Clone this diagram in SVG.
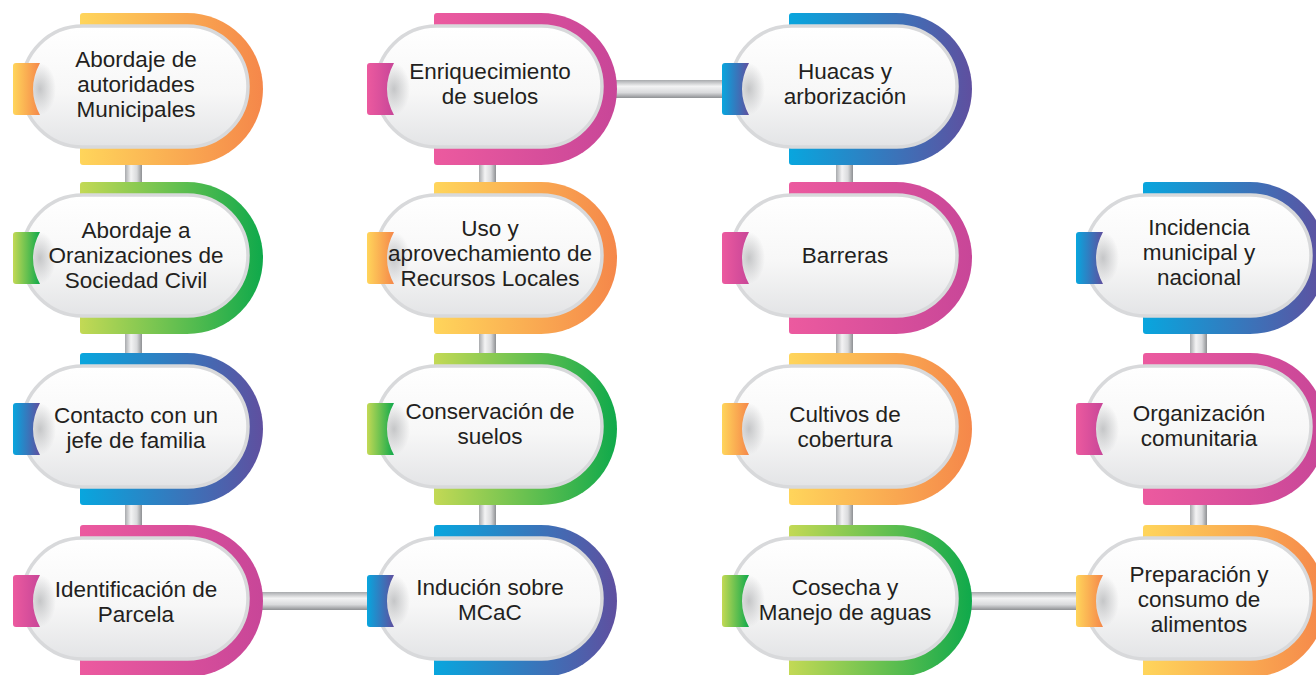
<svg xmlns="http://www.w3.org/2000/svg" width="1316" height="675" viewBox="0 0 1316 675">
<defs>
<linearGradient id="gO" x1="0" y1="0" x2="1" y2="0"><stop offset="0" stop-color="#ffd55b"/><stop offset="1" stop-color="#f5874a"/></linearGradient>
<linearGradient id="gG" x1="0" y1="0" x2="1" y2="0"><stop offset="0" stop-color="#c3d955"/><stop offset="1" stop-color="#0fa94b"/></linearGradient>
<linearGradient id="gB" x1="0" y1="0" x2="1" y2="0"><stop offset="0" stop-color="#08a6de"/><stop offset="1" stop-color="#5f4f9f"/></linearGradient>
<linearGradient id="gP" x1="0" y1="0" x2="1" y2="0"><stop offset="0" stop-color="#ec5a9f"/><stop offset="1" stop-color="#c84698"/></linearGradient>
<linearGradient id="gPill" x1="0" y1="0" x2="0" y2="1"><stop offset="0" stop-color="#ffffff"/><stop offset="0.55" stop-color="#f7f7f7"/><stop offset="1" stop-color="#e3e4e6"/></linearGradient>
<linearGradient id="gH" x1="0" y1="0" x2="0" y2="1"><stop offset="0" stop-color="#a8aaad"/><stop offset="0.35" stop-color="#f3f3f4"/><stop offset="0.7" stop-color="#d9dadc"/><stop offset="1" stop-color="#8e9093"/></linearGradient>
<linearGradient id="gV" x1="0" y1="0" x2="1" y2="0"><stop offset="0" stop-color="#a8aaad"/><stop offset="0.35" stop-color="#f3f3f4"/><stop offset="0.7" stop-color="#d9dadc"/><stop offset="1" stop-color="#8e9093"/></linearGradient>
<radialGradient id="gSh" cx="0.5" cy="0.5" r="0.5"><stop offset="0" stop-color="#9c9ea1" stop-opacity="0.55"/><stop offset="1" stop-color="#9c9ea1" stop-opacity="0"/></radialGradient>
<path id="band" d="M3,-76 H107 A76,76 0 0 1 107,76 H3 Q0,76 0,73 V-73 Q0,-76 3,-76 Z"/>
<path id="tab" d="M-64,-26 H-40 Q-54,0 -40,26 H-64 Q-67,26 -67,23 V-23 Q-67,-26 -64,-26 Z"/>
</defs>
<style>
.o{fill:url(#gO)} .g{fill:url(#gG)} .b{fill:url(#gB)} .p{fill:url(#gP)}
.pill{fill:url(#gPill);stroke:#d8d9db;stroke-width:3.5}
.sh{fill:url(#gSh)}
.h{fill:url(#gH)} .v{fill:url(#gV)}
text{font-family:"Liberation Sans",Arial,sans-serif;font-size:22.5px;fill:#231f20;text-anchor:middle}
</style>
<rect width="1316" height="675" fill="#ffffff"/>
<g id="connectors">
<rect class="v" x="125" y="150" width="17" height="120"/>
<rect class="v" x="125" y="320" width="17" height="120"/>
<rect class="v" x="125" y="490" width="17" height="120"/>
<rect class="v" x="479" y="150" width="17" height="120"/>
<rect class="v" x="479" y="320" width="17" height="120"/>
<rect class="v" x="479" y="490" width="17" height="120"/>
<rect class="v" x="836" y="150" width="17" height="120"/>
<rect class="v" x="836" y="320" width="17" height="120"/>
<rect class="v" x="836" y="490" width="17" height="120"/>
<rect class="v" x="1190" y="320" width="17" height="120"/>
<rect class="v" x="1190" y="490" width="17" height="120"/>
<rect class="h" x="250" y="592" width="130" height="18"/>
<rect class="h" x="604" y="80" width="130" height="18"/>
<rect class="h" x="959" y="592" width="130" height="18"/>
</g>

<g id="n1" transform="translate(80,89)">
<use href="#band" class="o"/><rect class="pill" x="-58" y="-63" width="226" height="121" rx="60.5"/><ellipse class="sh" cx="-40" cy="0" rx="16" ry="26"/><use href="#tab" class="o"/>
<text x="56" y="-22">Abordaje de</text><text x="56" y="3">autoridades</text><text x="56" y="28">Municipales</text>
</g>
<g id="n2" transform="translate(80,258)">
<use href="#band" class="g"/><rect class="pill" x="-58" y="-63" width="226" height="121" rx="60.5"/><ellipse class="sh" cx="-40" cy="0" rx="16" ry="26"/><use href="#tab" class="g"/>
<text x="56" y="-20">Abordaje a</text><text x="56" y="5">Oranizaciones de</text><text x="56" y="30">Sociedad Civil</text>
</g>
<g id="n3" transform="translate(80,429)">
<use href="#band" class="b"/><rect class="pill" x="-58" y="-63" width="226" height="121" rx="60.5"/><ellipse class="sh" cx="-40" cy="0" rx="16" ry="26"/><use href="#tab" class="b"/>
<text x="56" y="-6">Contacto con un</text><text x="56" y="19">jefe de familia</text>
</g>
<g id="n4" transform="translate(80,601)">
<use href="#band" class="p"/><rect class="pill" x="-58" y="-63" width="226" height="121" rx="60.5"/><ellipse class="sh" cx="-40" cy="0" rx="16" ry="26"/><use href="#tab" class="p"/>
<text x="56" y="-4">Identificación de</text><text x="56" y="21">Parcela</text>
</g>

<g id="n5" transform="translate(434,89)">
<use href="#band" class="p"/><rect class="pill" x="-58" y="-63" width="226" height="121" rx="60.5"/><ellipse class="sh" cx="-40" cy="0" rx="16" ry="26"/><use href="#tab" class="p"/>
<text x="56" y="-10">Enriquecimiento</text><text x="56" y="15">de suelos</text>
</g>
<g id="n6" transform="translate(434,258)">
<use href="#band" class="o"/><rect class="pill" x="-58" y="-63" width="226" height="121" rx="60.5"/><ellipse class="sh" cx="-40" cy="0" rx="16" ry="26"/><use href="#tab" class="o"/>
<text x="56" y="-22">Uso y</text><text x="56" y="3">aprovechamiento de</text><text x="56" y="28">Recursos Locales</text>
</g>
<g id="n7" transform="translate(434,429)">
<use href="#band" class="g"/><rect class="pill" x="-58" y="-63" width="226" height="121" rx="60.5"/><ellipse class="sh" cx="-40" cy="0" rx="16" ry="26"/><use href="#tab" class="g"/>
<text x="56" y="-10">Conservación de</text><text x="56" y="15">suelos</text>
</g>
<g id="n8" transform="translate(434,601)">
<use href="#band" class="b"/><rect class="pill" x="-58" y="-63" width="226" height="121" rx="60.5"/><ellipse class="sh" cx="-40" cy="0" rx="16" ry="26"/><use href="#tab" class="b"/>
<text x="56" y="-6">Indución sobre</text><text x="56" y="19">MCaC</text>
</g>

<g id="n9" transform="translate(789,89)">
<use href="#band" class="b"/><rect class="pill" x="-58" y="-63" width="226" height="121" rx="60.5"/><ellipse class="sh" cx="-40" cy="0" rx="16" ry="26"/><use href="#tab" class="b"/>
<text x="56" y="-10">Huacas y</text><text x="56" y="15">arborización</text>
</g>
<g id="n10" transform="translate(789,258)">
<use href="#band" class="p"/><rect class="pill" x="-58" y="-63" width="226" height="121" rx="60.5"/><ellipse class="sh" cx="-40" cy="0" rx="16" ry="26"/><use href="#tab" class="p"/>
<text x="56" y="5">Barreras</text>
</g>
<g id="n11" transform="translate(789,429)">
<use href="#band" class="o"/><rect class="pill" x="-58" y="-63" width="226" height="121" rx="60.5"/><ellipse class="sh" cx="-40" cy="0" rx="16" ry="26"/><use href="#tab" class="o"/>
<text x="56" y="-7">Cultivos de</text><text x="56" y="18">cobertura</text>
</g>
<g id="n12" transform="translate(789,601)">
<use href="#band" class="g"/><rect class="pill" x="-58" y="-63" width="226" height="121" rx="60.5"/><ellipse class="sh" cx="-40" cy="0" rx="16" ry="26"/><use href="#tab" class="g"/>
<text x="56" y="-6">Cosecha y</text><text x="56" y="19">Manejo de aguas</text>
</g>

<g id="n13" transform="translate(1143,258)">
<use href="#band" class="b"/><rect class="pill" x="-58" y="-63" width="226" height="121" rx="60.5"/><ellipse class="sh" cx="-40" cy="0" rx="16" ry="26"/><use href="#tab" class="b"/>
<text x="56" y="-23">Incidencia</text><text x="56" y="2">municipal y</text><text x="56" y="27">nacional</text>
</g>
<g id="n14" transform="translate(1143,429)">
<use href="#band" class="p"/><rect class="pill" x="-58" y="-63" width="226" height="121" rx="60.5"/><ellipse class="sh" cx="-40" cy="0" rx="16" ry="26"/><use href="#tab" class="p"/>
<text x="56" y="-8">Organización</text><text x="56" y="17">comunitaria</text>
</g>
<g id="n15" transform="translate(1143,601)">
<use href="#band" class="o"/><rect class="pill" x="-58" y="-63" width="226" height="121" rx="60.5"/><ellipse class="sh" cx="-40" cy="0" rx="16" ry="26"/><use href="#tab" class="o"/>
<text x="56" y="-19">Preparación y</text><text x="56" y="6">consumo de</text><text x="56" y="31">alimentos</text>
</g>
</svg>
